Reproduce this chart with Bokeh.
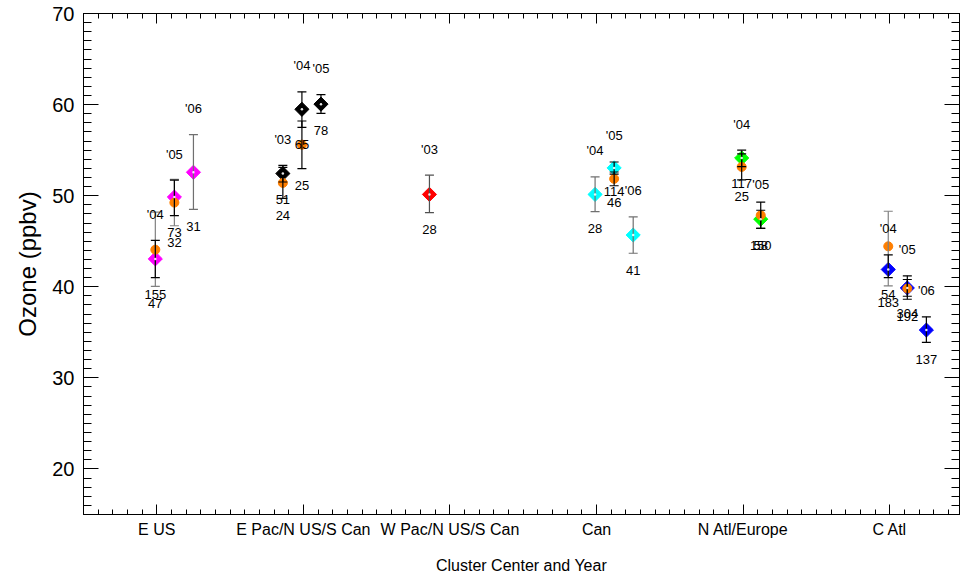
import math
from bokeh.plotting import figure
from bokeh.models import FixedTicker, LinearAxis, Range1d, ColumnDataSource
from bokeh.core.properties import value
from bokeh.embed import file_html
from bokeh.resources import INLINE

# ---------------- data ----------------
clusters = ["E US", "E Pac/N US/S Can", "W Pac/N US/S Can", "Can", "N Atl/Europe", "C Atl"]
cluster_colors = ["#FF00FF", "#000000", "#FF0000", "#00FFFF", "#00FF00", "#0000FF"]
year_offset = {"'03": -0.14, "'04": -0.01, "'05": 0.12, "'06": 0.25}

# diamond series (one entry per cluster/year)
pt_cluster = [1, 1, 1, 2, 2, 2, 3, 4, 4, 4, 5, 5, 6, 6, 6]
pt_year = ["'04", "'05", "'06", "'03", "'04", "'05", "'03", "'04", "'05", "'06", "'04", "'05", "'04", "'05", "'06"]
d_mean = [43.06, 49.85, 52.57, 52.43, 59.48, 60.05, 50.14, 50.14, 53.05, 45.68, 54.14, 47.42, 41.9, 39.87, 35.25]
d_lo = [41.0, 47.8, 48.5, 51.5, 57.5, 59.04, 48.15, 48.25, 52.36, 43.68, 53.2, 46.4, 41.0, 38.96, 33.9]
d_hi = [45.1, 51.7, 56.7, 53.33, 61.4, 61.1, 52.25, 52.06, 53.7, 47.67, 55.0, 48.4, 43.5, 41.2, 36.7]
d_n = ["155", "73", "31", "51", "65", "78", "28", "28", "114", "41", "117", "150", "54", "304", "137"]
d_bar = ["#000000", "#000000", "#707070", "#000000", "#000000", "#000000", "#505050",
         "#707070", "#000000", "#707070", "#000000", "#000000", "#000000", "#000000", "#000000"]

# orange series (subset of points, index into the lists above)
o_index = [0, 1, 3, 4, 8, 10, 11, 12, 13]
o_mean = [44.07, 49.24, 51.4, 55.6, 51.85, 53.16, 47.85, 44.44, 39.8]
o_lo = [40.04, 46.7, 49.7, 52.97, 51.09, 51.74, 46.4, 40.09, 38.63]
o_hi = [48.2, 51.8, 53.1, 58.2, 52.6, 54.58, 49.3, 48.29, 40.8]
o_n = ["47", "32", "24", "25", "46", "25", "58", "183", "192"]
o_bar = ["#808080", "#808080", "#000000", "#000000", "#000000", "#000000", "#000000", "#808080", "#000000"]

x_ticks = [1, 2, 3, 4, 5, 6]
y_ticks = [20, 30, 40, 50, 60, 70]

# ---------------- sources ----------------
xs = [c + year_offset[y] for c, y in zip(pt_cluster, pt_year)]
dcol = [cluster_colors[c - 1] for c in pt_cluster]
dsrc = ColumnDataSource(dict(x=xs, y=d_mean, lo=d_lo, hi=d_hi, n=d_n, col=dcol, bar=d_bar, yr=pt_year))
osrc = ColumnDataSource(dict(x=[xs[i] for i in o_index], y=o_mean, lo=o_lo, hi=o_hi, n=o_n, bar=o_bar))

FONT = value("Liberation Sans")

p = figure(width=961, height=576, output_backend="svg", toolbar_location=None,
           x_range=Range1d(0.5, 6.476), y_range=Range1d(15, 70),
           min_border_left=83, min_border_right=2, min_border_top=13, min_border_bottom=58)
p.background_fill_color = "white"
p.border_fill_color = "white"
p.outline_line_color = "black"
p.xgrid.visible = False
p.ygrid.visible = False

x_minor = [round(0.5 + 0.1 * i, 2) for i in range(0, 60)]
y_minor = list(range(15, 71))
xticker = FixedTicker(ticks=x_ticks, minor_ticks=x_minor)
yticker = FixedTicker(ticks=y_ticks, minor_ticks=y_minor)

p.xaxis.ticker = xticker
p.xaxis.major_label_overrides = {t: name for t, name in zip(x_ticks, clusters)}
p.yaxis.ticker = yticker

for ax in p.xaxis:
    ax.major_tick_in = 10
    ax.major_tick_out = 0
    ax.minor_tick_in = 5
    ax.minor_tick_out = 0
    ax.major_label_text_font = "Liberation Sans"
    ax.major_label_text_font_size = "16px"
    ax.major_label_text_color = "black"
    ax.major_label_standoff = 6
    ax.axis_label = "Cluster Center and Year"
    ax.axis_label_text_font = "Liberation Sans"
    ax.axis_label_text_font_size = "16px"
    ax.axis_label_text_font_style = "normal"
    ax.axis_label_text_color = "black"
    ax.axis_label_standoff = 16
    ax.axis_line_color = "black"
    ax.major_tick_line_color = "black"
    ax.minor_tick_line_color = "black"

for ax in p.yaxis:
    ax.major_tick_in = 15
    ax.major_tick_out = 0
    ax.minor_tick_in = 8
    ax.minor_tick_out = 0
    ax.major_label_text_font = "Liberation Sans"
    ax.major_label_text_font_size = "20px"
    ax.major_label_text_color = "black"
    ax.major_label_standoff = 9
    ax.axis_label = "Ozone (ppbv)"
    ax.axis_label_text_font = "Liberation Sans"
    ax.axis_label_text_font_size = "24px"
    ax.axis_label_text_font_style = "normal"
    ax.axis_label_text_color = "black"
    ax.axis_label_standoff = 8
    ax.axis_line_color = "black"
    ax.major_tick_line_color = "black"
    ax.minor_tick_line_color = "black"


def tick_only_axis(positions, length):
    return LinearAxis(ticker=FixedTicker(ticks=[], minor_ticks=positions),
                      major_tick_in=0, major_tick_out=0, minor_tick_in=length, minor_tick_out=0,
                      major_label_standoff=0, axis_label_standoff=0,
                      axis_line_color="black", minor_tick_line_color="black")


# mirrored tick marks on top and right (no labels)
p.add_layout(tick_only_axis(x_minor, 5), "above")
p.add_layout(tick_only_axis(x_ticks, 10), "above")
p.add_layout(tick_only_axis(y_minor, 8), "right")
p.add_layout(tick_only_axis(y_ticks, 15), "right")

# diamonds
p.scatter("x", "y", source=dsrc, marker="square", size=10, angle=math.pi / 4,
          fill_color="col", line_color="col")
# orange circles
p.scatter("x", "y", source=osrc, marker="circle", size=9, fill_color="#FF7F00", line_color="#FF7F00")

# error bars (orange series first, then diamonds)
for src in (osrc, dsrc):
    p.segment(x0="x", y0="lo", x1="x", y1="hi", source=src, line_color="bar", line_width=1.2)
    p.scatter("x", "lo", source=src, marker="dash", size=9, line_color="bar", line_width=1.2)
    p.scatter("x", "hi", source=src, marker="dash", size=9, line_color="bar", line_width=1.2)

# centre dots
p.scatter("x", "y", source=dsrc, marker="circle", size=2.5, fill_color="white", line_color=None, fill_alpha=0.9)

# labels
p.text("x", "hi", text="yr", source=dsrc, text_align="center", text_baseline="middle",
       y_offset=-26, text_font=FONT, text_font_size="13px", text_color="black")
p.text("x", "lo", text="n", source=dsrc, text_align="center", text_baseline="middle",
       y_offset=17, text_font=FONT, text_font_size="13px", text_color="black")
p.text("x", "lo", text="n", source=osrc, text_align="center", text_baseline="middle",
       y_offset=17, text_font=FONT, text_font_size="13px", text_color="black")

open("out.html", "w").write(file_html(p, INLINE))
